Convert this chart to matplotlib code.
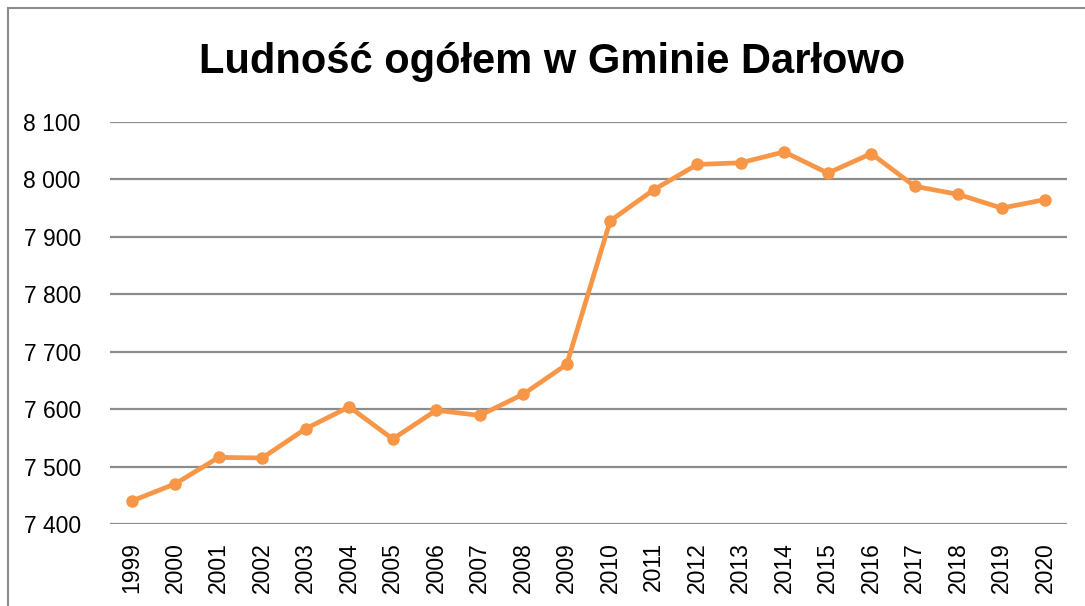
import matplotlib
matplotlib.use("Agg")
import matplotlib.pyplot as plt
from matplotlib.lines import Line2D
from matplotlib.ticker import FixedLocator, FuncFormatter

years = [str(y) for y in range(1999, 2021)]
population = [7440, 7470, 7516, 7515, 7566, 7604, 7548, 7598, 7589, 7626, 7678,
              7928, 7982, 8026, 8029, 8048, 8011, 8045, 7988, 7974, 7950, 7965]
y_ticks = [7400, 7500, 7600, 7700, 7800, 7900, 8000, 8100]
title = "Ludność ogółem w Gminie Darłowo"

W, H = 1085, 606
fig = plt.figure(figsize=(W / 100, H / 100), dpi=100)
fig.patch.set_facecolor("white")

# chart frame (left and top edges visible)
fig.add_artist(Line2D([8 / W, 8 / W], [0, 1 - 8 / H], transform=fig.transFigure,
                      color="#8c8c8c", lw=1.5))
fig.add_artist(Line2D([8 / W, 1], [1 - 8 / H, 1 - 8 / H], transform=fig.transFigure,
                      color="#8c8c8c", lw=1.5))

ax = fig.add_axes([110 / W, 1 - 524 / H, (1067 - 110) / W, (524 - 122) / H])
x = list(range(len(years)))
ax.plot(x, population, color="#F79646", lw=3.4, marker="o", markersize=8,
        solid_joinstyle="round", zorder=3)

ax.set_xlim(-0.5, len(years) - 0.5)
ax.set_ylim(y_ticks[0], y_ticks[-1])
ax.yaxis.set_major_locator(FixedLocator(y_ticks))
ax.yaxis.set_major_formatter(FuncFormatter(lambda v, p: f"{int(v):,}".replace(",", " ")))
ax.set_xticks(x)
ax.set_xticklabels(years, rotation=90, fontsize=16.5, family="Liberation Sans")
for lab in ax.get_yticklabels():
    lab.set_fontsize(16.5)
    lab.set_family("Liberation Sans")
ax.grid(axis="y", color="#8c8c8c", lw=1.6)
ax.set_axisbelow(True)
for s in ax.spines.values():
    s.set_visible(False)
ax.tick_params(axis="both", length=0)
ax.tick_params(axis="y", pad=21)
ax.tick_params(axis="x", pad=13)

fig.text(552 / W, 1 - 62 / H, title, ha="center", va="center",
         fontsize=30, fontweight="bold", family="Liberation Sans")

fig.savefig("out.png", dpi=100)
